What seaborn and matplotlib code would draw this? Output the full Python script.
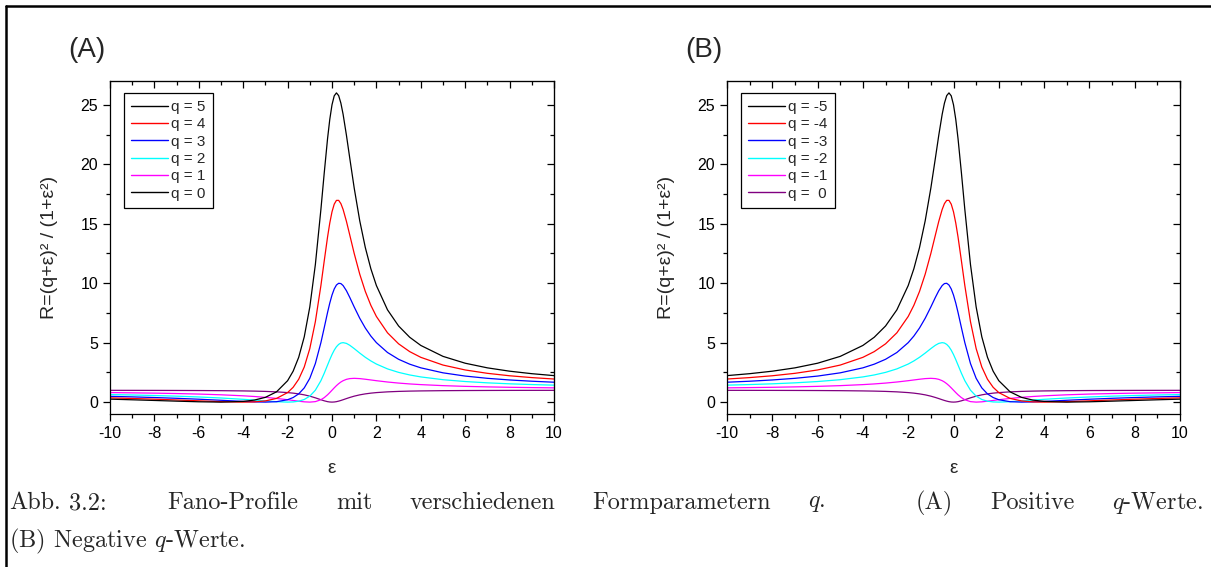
import matplotlib
matplotlib.use('Agg')
import matplotlib.pyplot as plt
from matplotlib.lines import Line2D
from matplotlib.ticker import MultipleLocator
import pandas as pd
import seaborn as sns

# epsilon grid of the read-off points
eps = [-10, -9, -8, -7, -6, -5, -4, -3.5, -3, -2.5, -2, -1.75, -1.5, -1.25, -1,
       -0.75, -0.5, -0.35, -0.2, -0.1, 0, 0.1, 0.2, 0.3, 0.4, 0.5, 0.65, 0.8, 1,
       1.25, 1.5, 1.75, 2, 2.5, 3, 3.5, 4, 5, 6, 7, 8, 9, 10]

# R values of panel (A); panel (B) shows the same curves mirrored in epsilon
r_q5 = [0.248, 0.195, 0.138, 0.08, 0.027, 0, 0.059, 0.170, 0.4, 0.862, 1.8, 2.6, 3.769, 5.488, 8,
        11.56, 16.2, 19.263, 22.154, 23.772, 25, 25.752, 26.0, 25.771, 25.138, 24.2, 22.441, 20.512, 18,
        15.244, 13, 11.215, 9.8, 7.759, 6.4, 5.453, 4.765, 3.846, 3.270, 2.88, 2.6, 2.390, 2.228]
r_q4 = [0.356, 0.305, 0.246, 0.18, 0.108, 0.038, 0, 0.019, 0.1, 0.310, 0.8, 1.246, 1.923, 2.951, 4.5,
        6.76, 9.8, 11.869, 13.885, 15.059, 16, 16.644, 16.962, 16.963, 16.690, 16.2, 15.200, 14.049, 12.5,
        10.756, 9.308, 8.138, 7.2, 5.828, 4.9, 4.245, 3.765, 3.115, 2.703, 2.42, 2.215, 2.061, 1.941]
r_q3 = [0.485, 0.439, 0.385, 0.32, 0.243, 0.154, 0.059, 0.019, 0, 0.034, 0.2, 0.385, 0.692, 1.195, 2,
        3.24, 5, 6.256, 7.538, 8.327, 9, 9.515, 9.846, 9.991, 9.966, 9.8, 9.366, 8.805, 8,
        7.049, 6.231, 5.554, 5, 4.172, 3.6, 3.189, 2.882, 2.462, 2.189, 2, 1.862, 1.756, 1.673]
r_q2 = [0.634, 0.598, 0.554, 0.5, 0.432, 0.346, 0.235, 0.170, 0.1, 0.034, 0, 0.015, 0.077, 0.220, 0.5,
        1.0, 1.8, 2.425, 3.115, 3.574, 4, 4.366, 4.654, 4.853, 4.966, 5.0, 4.937, 4.780, 4.5,
        4.122, 3.769, 3.462, 3.2, 2.793, 2.5, 2.283, 2.118, 1.885, 1.730, 1.62, 1.538, 1.476, 1.426]
r_q1 = [0.802, 0.780, 0.754, 0.72, 0.676, 0.615, 0.529, 0.472, 0.4, 0.310, 0.2, 0.138, 0.077, 0.024, 0,
        0.04, 0.2, 0.376, 0.615, 0.802, 1, 1.198, 1.385, 1.550, 1.690, 1.8, 1.914, 1.976, 2,
        1.976, 1.923, 1.862, 1.8, 1.690, 1.6, 1.528, 1.471, 1.385, 1.324, 1.28, 1.246, 1.220, 1.198]
r_q0 = [0.990, 0.988, 0.985, 0.980, 0.973, 0.962, 0.941, 0.925, 0.9, 0.862, 0.8, 0.754, 0.692, 0.610, 0.5,
        0.36, 0.2, 0.109, 0.038, 0.010, 0, 0.010, 0.038, 0.083, 0.138, 0.2, 0.297, 0.390, 0.5,
        0.610, 0.692, 0.754, 0.8, 0.862, 0.9, 0.925, 0.941, 0.962, 0.973, 0.980, 0.985, 0.988, 0.990]

curves = [r_q5, r_q4, r_q3, r_q2, r_q1, r_q0]
labels_a = ['q = 5', 'q = 4', 'q = 3', 'q = 2', 'q = 1', 'q = 0']
labels_b = ['q = -5', 'q = -4', 'q = -3', 'q = -2', 'q = -1', 'q =  0']
line_colors = ['#000000', '#ff0000', '#0000ff', '#00ffff', '#ff00ff', '#800080']
legend_colors_a = ['#000000', '#ff0000', '#0000ff', '#00ffff', '#ff00ff', '#000000']
legend_colors_b = ['#000000', '#ff0000', '#0000ff', '#00ffff', '#ff00ff', '#800080']

sns.set_style('ticks')
plt.rcParams['font.family'] = ['Liberation Sans', 'DejaVu Sans']
plt.rcParams['mathtext.fontset'] = 'cm'
plt.rcParams['axes.unicode_minus'] = False

W, H = 1211, 567
fig = plt.figure(figsize=(W / 100, H / 100), dpi=100)


def make_frame(labels, mirror):
    rows = []
    for lab, vals in zip(labels, curves):
        for e, r in zip(eps, vals):
            rows.append({'eps': -e if mirror else e, 'R': r, 'q': lab})
    return pd.DataFrame(rows)


def style_ticks(axis, direction, **kw):
    axis.tick_params(which='both', direction=direction, width=0.9, colors='black', **kw)
    axis.tick_params(which='major', length=5)
    axis.tick_params(which='minor', length=2.8)


def draw_panel(left, width, labels, legend_colors, mirror, tag):
    ax = fig.add_axes([left / W, 1 - 414 / H, width / W, 333 / H])
    df = make_frame(labels, mirror)
    # q = 0 first, so the big peaks lie on top
    sns.lineplot(data=df, x='eps', y='R', hue='q', hue_order=labels[::-1],
                 palette=dict(zip(labels, line_colors)), estimator=None,
                 sort=True, linewidth=0.9, legend=False, ax=ax)
    ax.set_xlim(-10, 10)
    ax.set_ylim(-1, 27)
    ax.xaxis.set_major_locator(MultipleLocator(2))
    ax.xaxis.set_minor_locator(MultipleLocator(1))
    ax.yaxis.set_major_locator(MultipleLocator(5))
    ax.yaxis.set_minor_locator(MultipleLocator(2.5))
    style_ticks(ax, 'out', labelsize=11.5)
    for s in ax.spines.values():
        s.set_visible(True)
        s.set_color('black')
        s.set_linewidth(0.9)
    # inward ticks on top and right, no labels
    top = ax.secondary_xaxis('top')
    top.xaxis.set_major_locator(MultipleLocator(2))
    top.xaxis.set_minor_locator(MultipleLocator(1))
    style_ticks(top, 'in', labeltop=False)
    right = ax.secondary_yaxis('right')
    right.yaxis.set_major_locator(MultipleLocator(5))
    right.yaxis.set_minor_locator(MultipleLocator(2.5))
    style_ticks(right, 'in', labelright=False)

    ax.set_xlabel('ε', fontsize=13.5, labelpad=14)
    ax.set_ylabel('R=(q+ε)² / (1+ε²)', fontsize=14, labelpad=16)

    handles = [Line2D([], [], color=c, lw=1.0) for c in legend_colors]
    leg = ax.legend(handles, labels, loc='upper left', bbox_to_anchor=(14 / width, 1 - 12 / 333),
                    borderaxespad=0, fontsize=11, handlelength=2.4, handletextpad=0.25,
                    labelspacing=0.22, borderpad=0.45, fancybox=False, framealpha=1,
                    edgecolor='black')
    leg.get_frame().set_linewidth(0.9)
    fig.text((left - 42) / W, 1 - 50 / H, tag, fontsize=20, va='center', ha='left')
    return ax


draw_panel(110, 444, labels_a, legend_colors_a, False, '(A)')
draw_panel(727, 453, labels_b, legend_colors_b, True, '(B)')

# outer frame (top and left only)
fig.add_artist(Line2D([6 / W, 1], [1 - 6 / H, 1 - 6 / H], color='black', lw=1.8,
                      transform=fig.transFigure))
fig.add_artist(Line2D([6 / W, 6 / W], [0, 1 - 6 / H], color='black', lw=1.8,
                      transform=fig.transFigure))

# caption: first line justified between x0 and x1
cap_size = 17.5
cap_words = ['Abb.', '3.2:', 'Fano-Profile', 'mit', 'verschiedenen', 'Formparametern',
             '$q$.', '(A)', 'Positive', '$q$-Werte.']
x0, x1 = 9, 1203
em = cap_size * 100 / 72
renderer = fig.canvas.get_renderer()
cap_texts = [fig.text(0, 1 - 503 / H, w, fontfamily='cmr10', fontsize=cap_size, va='center')
             for w in cap_words]
widths = [t.get_window_extent(renderer).width for t in cap_texts]
# tie after "Abb.", wider space after "3.2:" and after the sentence end
tie = 0.33 * em
extra1, extra2 = 1.0 * em, 2.2 * em
gap = (x1 - x0 - sum(widths) - tie - extra1 - extra2) / (len(cap_words) - 2)
steps = [tie, gap + extra1, gap, gap, gap, gap, gap + extra2, gap, gap, 0]
x = x0
for t, w, step in zip(cap_texts, widths, steps):
    t.set_x(x / W)
    x += w + step
fig.text(x0 / W, 1 - 541 / H, '(B) Negative $q$-Werte.', fontfamily='cmr10', fontsize=cap_size,
         va='center', ha='left')

fig.savefig('out.png', dpi=100)
